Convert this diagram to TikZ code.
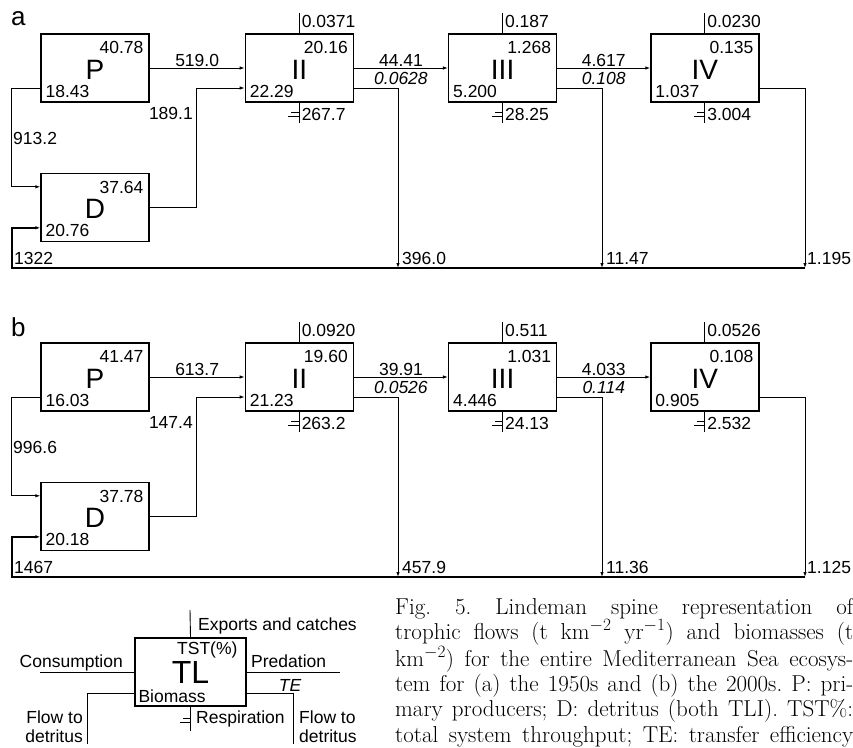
\documentclass[tikz,border=0pt]{standalone}
\usepackage{fontspec}
\setsansfont{Liberation Sans}
\usetikzlibrary{arrows.meta,positioning}

\begin{document}
\begin{tikzpicture}[x=1pt,y=-1pt,
  every node/.style={font=\sffamily\fontsize{17.5}{20}\selectfont,inner sep=1pt},
  tlbox/.style={draw,line width=1.3pt,minimum width=108pt,minimum height=68pt,inner sep=0pt},
  big/.style={font=\sffamily\fontsize{28}{30}\selectfont},
  te/.style={font=\sffamily\itshape\fontsize{17.5}{20}\selectfont},
  tr/.style={anchor=north east,xshift=-5pt,yshift=-7pt},
  bl/.style={anchor=south west,xshift=4pt,yshift=4pt},
  flow/.style={line width=0.9pt,-{Latex[length=5pt,width=3.5pt]}},
  link/.style={line width=0.9pt},
  spine/.style={line width=1.6pt,-{Latex[length=5pt,width=3.5pt]}},
  exit/.style={anchor=west,inner sep=2pt}]
\useasboundingbox (0,0) rectangle (853,747);

% ---- (a) 1950s
\node[font=\sffamily\fontsize{26}{28}\selectfont,anchor=base west] at (10,25) {a};
\node[tlbox] (aP) at (95,68) {};
\node[tlbox,below=70pt of aP] (aD) {};
\node[tlbox,right=95pt of aP] (aII) {};
\node[tlbox,right=94pt of aII] (aIII) {};
\node[tlbox,right=93pt of aIII] (aIV) {};
\node[big] at ([yshift=-2pt]aP.center) {P};
\node[big] at ([yshift=-2pt]aD.center) {D};
\node[big] at ([yshift=-2pt]aII.center) {II};
\node[big] at ([yshift=-2pt]aIII.center) {III};
\node[big] at ([yshift=-2pt]aIV.center) {IV};
\node[tr] at (aP.north east) {40.78};
\node[bl] at (aP.south west) {18.43};
\node[tr] at (aD.north east) {37.64};
\node[bl] at (aD.south west) {20.76};
\node[tr] at (aII.north east) {20.16};
\node[bl] at (aII.south west) {22.29};
\node[tr] at (aIII.north east) {1.268};
\node[bl] at (aIII.south west) {5.200};
\node[tr] at (aIV.north east) {0.135};
\node[bl] at (aIV.south west) {1.037};
\coordinate (aL) at (12,268);
\coordinate (aE2) at (398,268);
\coordinate (aE3) at (602,268);
\coordinate (aE4) at (805,268);
\draw[flow] (aP) -- node[above]{519.0} (aII);
\draw[flow] (aII) -- node[above]{44.41} node[te,below,yshift=-3pt]{0.0628} (aIII);
\draw[flow] (aIII) -- node[above]{4.617} node[te,below,yshift=-3pt]{0.108} (aIV);
\draw[flow] ([yshift=-20pt]aP.west) -- ++(-29,0) |- ([yshift=20.5pt]aD.west);
\draw[flow] (aD.east) -- ++(47,0) |- ([yshift=-20pt]aII.west);
\node[anchor=west] at (12,138) {913.2};
\node[anchor=east] at (194,113) {189.1};
\draw[flow] ([yshift=-20pt]aII.east) -| (aE2);
\draw[flow] ([yshift=-20pt]aIII.east) -| (aE3);
\draw[flow] ([yshift=-20pt]aIV.east) -| (aE4);
\draw[spine] (aE4) -- (aL) |- ([yshift=-20.5pt]aD.west);
\node[above right,xshift=3pt,yshift=2pt] at (aE2) {396.0};
\node[above right,xshift=3pt,yshift=2pt] at (aE3) {11.47};
\node[above right,xshift=1pt,yshift=2pt] at (aE4) {1.195};
\node[above right,xshift=1pt,yshift=2pt] at (aL) {1322};
% exports and respiration
\draw[link] (aII.north) -- ++(0,-20) node[exit,pos=0.6]{0.0371};
\draw[link] (aIII.north) -- ++(0,-20) node[exit,pos=0.6]{0.187};
\draw[link] (aIV.north) -- ++(0,-20) node[exit,pos=0.6]{0.0230};
\foreach \n/\v in {aII/267.7,aIII/28.25,aIV/3.004} {
  \draw[link] (\n.south) -- ++(0,20) node[exit,pos=0.6]{\v};
  \draw[link] ([yshift=-10pt]\n.south) -- ++(-8,0);
  \draw[link] ([yshift=-14pt]\n.south) -- ++(-11,0);
}

% ---- (b) 2000s
\begin{scope}[shift={(0,309)}]
\node[font=\sffamily\fontsize{26}{28}\selectfont,anchor=base west] at (10,27) {b};
\node[tlbox] (bP) at (95,68) {};
\node[tlbox,below=70pt of bP] (bD) {};
\node[tlbox,right=95pt of bP] (bII) {};
\node[tlbox,right=94pt of bII] (bIII) {};
\node[tlbox,right=93pt of bIII] (bIV) {};
\node[big] at ([yshift=-2pt]bP.center) {P};
\node[big] at ([yshift=-2pt]bD.center) {D};
\node[big] at ([yshift=-2pt]bII.center) {II};
\node[big] at ([yshift=-2pt]bIII.center) {III};
\node[big] at ([yshift=-2pt]bIV.center) {IV};
\node[tr] at (bP.north east) {41.47};
\node[bl] at (bP.south west) {16.03};
\node[tr] at (bD.north east) {37.78};
\node[bl] at (bD.south west) {20.18};
\node[tr] at (bII.north east) {19.60};
\node[bl] at (bII.south west) {21.23};
\node[tr] at (bIII.north east) {1.031};
\node[bl] at (bIII.south west) {4.446};
\node[tr] at (bIV.north east) {0.108};
\node[bl] at (bIV.south west) {0.905};
\coordinate (bL) at (12,268);
\coordinate (bE2) at (398,268);
\coordinate (bE3) at (602,268);
\coordinate (bE4) at (805,268);
\draw[flow] (bP) -- node[above]{613.7} (bII);
\draw[flow] (bII) -- node[above]{39.91} node[te,below,yshift=-3pt]{0.0526} (bIII);
\draw[flow] (bIII) -- node[above]{4.033} node[te,below,yshift=-3pt]{0.114} (bIV);
\draw[flow] ([yshift=-20pt]bP.west) -- ++(-29,0) |- ([yshift=20.5pt]bD.west);
\draw[flow] (bD.east) -- ++(47,0) |- ([yshift=-20pt]bII.west);
\node[anchor=west] at (12,138) {996.6};
\node[anchor=east] at (194,113) {147.4};
\draw[flow] ([yshift=-20pt]bII.east) -| (bE2);
\draw[flow] ([yshift=-20pt]bIII.east) -| (bE3);
\draw[flow] ([yshift=-20pt]bIV.east) -| (bE4);
\draw[spine] (bE4) -- (bL) |- ([yshift=-20.5pt]bD.west);
\node[above right,xshift=3pt,yshift=2pt] at (bE2) {457.9};
\node[above right,xshift=3pt,yshift=2pt] at (bE3) {11.36};
\node[above right,xshift=1pt,yshift=2pt] at (bE4) {1.125};
\node[above right,xshift=1pt,yshift=2pt] at (bL) {1467};
\draw[link] (bII.north) -- ++(0,-20) node[exit,pos=0.6]{0.0920};
\draw[link] (bIII.north) -- ++(0,-20) node[exit,pos=0.6]{0.511};
\draw[link] (bIV.north) -- ++(0,-20) node[exit,pos=0.6]{0.0526};
\foreach \n/\v in {bII/263.2,bIII/24.13,bIV/2.532} {
  \draw[link] (\n.south) -- ++(0,20) node[exit,pos=0.6]{\v};
  \draw[link] ([yshift=-10pt]\n.south) -- ++(-8,0);
  \draw[link] ([yshift=-14pt]\n.south) -- ++(-11,0);
}
\end{scope}

% ---- legend
\node[tlbox,minimum width=111pt] (tl) at (190.5,672) {};
\node[font=\sffamily\fontsize{32}{34}\selectfont] at (tl.center) {TL};
\node[anchor=north east,xshift=-8pt,yshift=-3pt] at (tl.north east) {TST(\%)};
\node[anchor=south west,xshift=3pt,yshift=3pt] at (tl.south west) {Biomass};
\coordinate (cons) at (40,672);
\coordinate (pred) at (340,672);
\coordinate (expt) at (190,610);
\coordinate (fdl) at (87,744);
\coordinate (fdr) at (293,744);
\draw[link] (cons) -- (tl);
\draw[link] (tl) -- (pred);
\draw[link] (tl.north) -- (expt);
\draw[link] ([yshift=-21pt]tl.west) -| (fdl);
\draw[link] ([yshift=-21pt]tl.east) -| (fdr);
\draw[link] (tl.south) -- ++(0,24);
\draw[link] ([yshift=-12pt]tl.south) -- ++(-8,0);
\draw[link] ([yshift=-16pt]tl.south) -- ++(-11,0);
\node[anchor=base east] at (124,667) {Consumption};
\node[anchor=base west] at (250,667) {Predation};
\node[te] at (290,685) {TE};
\node[anchor=base west] at (197,630) {Exports and catches};
\node[anchor=base west] at (195,723) {Respiration};
\node[align=right,anchor=south east,font=\sffamily\fontsize{17.5}{19}\selectfont] at (84,744) {Flow to\\detritus};
\node[align=left,anchor=south west,font=\sffamily\fontsize{17.5}{19}\selectfont] at (298,744) {Flow to\\detritus};

% ---- caption
\node[anchor=north west,inner sep=0pt,text width=458pt,align=justify,
  font=\rmfamily\fontsize{23}{25.2}\selectfont] (cap) at (395,598) {\parindent=0pt\parfillskip=0pt\frenchspacing
Fig. 5. Lindeman spine representation of\linebreak
trophic flows (t km$^{-2}$ yr$^{-1}$) and biomasses (t\linebreak
km$^{-2}$) for the entire Mediterranean Sea ecosys-\linebreak
tem for (a) the 1950s and (b) the 2000s. P: pri-\linebreak
mary producers; D: detritus (both TLI). TST\%:\linebreak
total system throughput; TE: transfer efficiency\par};
\end{tikzpicture}
\end{document}
